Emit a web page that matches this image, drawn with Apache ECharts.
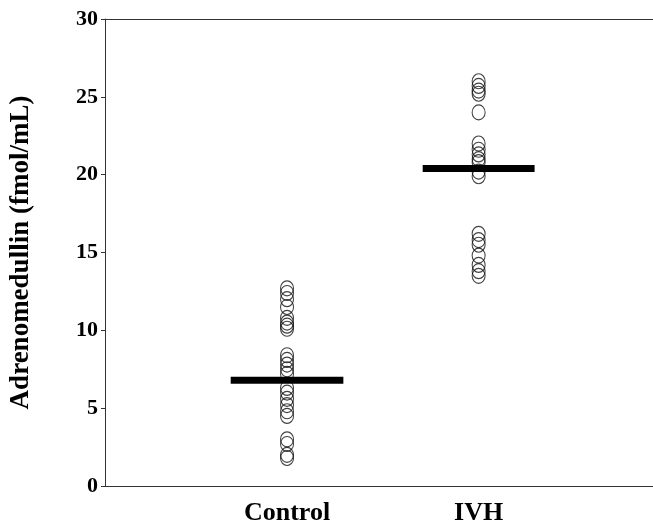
<!DOCTYPE html>
<html>
<head>
<meta charset="utf-8">
<script src="https://cdn.jsdelivr.net/npm/echarts@6/dist/echarts.min.js"></script>
<style>
html,body{margin:0;padding:0;background:#fff;}
#chart{width:653px;height:526px;}
</style>
</head>
<body>
<div id="chart"></div>
<script>
var categories = ['Control', 'IVH'];
var categoryX = [1, 2];
var controlValues = [12.7, 12.4, 12.0, 11.5, 10.8, 10.5, 10.3, 10.1, 8.4, 8.1, 7.8, 7.5, 7.2, 6.3, 6.0, 5.6, 5.2, 4.8, 4.5, 3.0, 2.7, 2.0, 1.8];
var ivhValues = [26.0, 25.7, 25.4, 25.2, 24.0, 22.0, 21.6, 21.3, 21.0, 20.8, 20.2, 19.9, 16.2, 15.8, 15.5, 14.8, 14.2, 13.8, 13.5];
var meanValues = [6.8, 20.4];
var meanHalfWidth = [0.294, 0.292];
var yTicks = [0, 5, 10, 15, 20, 25, 30];

var font = '"Liberation Serif", "Times New Roman", serif';
function pts(x, vals) { return vals.map(function (v) { return [x, v]; }); }

var series = [];
[controlValues, ivhValues].forEach(function (vals, i) {
  series.push({
    type: 'scatter',
    data: pts(categoryX[i], vals),
    symbol: 'circle',
    symbolSize: [13, 15],
    itemStyle: { color: 'rgba(0,0,0,0)', borderColor: '#111', borderWidth: 1.1 },
    silent: true
  });
});
meanValues.forEach(function (m, i) {
  series.push({
    type: 'line',
    data: [[categoryX[i] - meanHalfWidth[i], m], [categoryX[i] + meanHalfWidth[i], m]],
    symbol: 'none',
    lineStyle: { color: '#000', width: 7 },
    silent: true,
    z: 5
  });
});

var chart = echarts.init(document.getElementById('chart'));
chart.setOption({
  animation: false,
  backgroundColor: '#fff',
  grid: { left: 104, right: 0, top: 19, bottom: 40, containLabel: false },
  xAxis: [{
    type: 'value', min: 0.05, max: 2.91,
    axisLine: { show: true, onZero: false, lineStyle: { color: '#333', width: 1 } },
    axisTick: { show: false },
    splitLine: { show: false },
    axisLabel: {
      customValues: categoryX,
      formatter: function (v) { var k = categoryX.indexOf(v); return k >= 0 ? categories[k] : ''; },
      fontFamily: font, fontWeight: 'bold', fontSize: 26, color: '#000', margin: 14
    }
  }, {
    type: 'value', min: 0.05, max: 2.91, position: 'top',
    axisLine: { show: true, onZero: false, lineStyle: { color: '#333', width: 1 } },
    axisTick: { show: false }, axisLabel: { show: false }, splitLine: { show: false }
  }],
  yAxis: {
    type: 'value', min: 0, max: 30, interval: 5,
    name: 'Adrenomedullin (fmol/mL)',
    nameLocation: 'middle', nameGap: 70,
    nameTextStyle: { fontFamily: font, fontWeight: 'bold', fontSize: 27, color: '#000' },
    axisLine: { show: true, lineStyle: { color: '#333', width: 1 } },
    axisTick: { show: true, length: 4, lineStyle: { color: '#333' } },
    splitLine: { show: false },
    axisLabel: {
      fontFamily: font, fontWeight: 'bold', fontSize: 22, color: '#000', margin: 7,
      padding: [7, 0, 0, 0],
      formatter: function (v) { return yTicks.indexOf(v) >= 0 ? String(v) : ''; }
    }
  },
  series: series
});
</script>
</body>
</html>
